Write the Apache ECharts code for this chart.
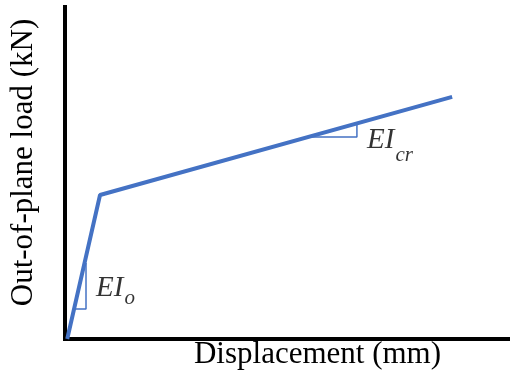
<!DOCTYPE html>
<html>
<head>
<meta charset="utf-8">
<script src="https://cdn.jsdelivr.net/npm/echarts@6/dist/echarts.min.js"></script>
<style>
html,body{margin:0;padding:0;background:#fff;}
#c{width:510px;height:378px;}
</style>
</head>
<body>
<div id="c"></div>
<script>
// Data (arbitrary units: displacement 0-100, load 0-100)
var curveX = [0.5, 7.87, 87.0];
var curveY = [0, 43.1, 72.5];
var triInitX = [2.25, 4.72, 4.72];
var triInitY = [9.0, 9.0, 22.75];
var triCrX = [55.06, 65.6, 65.6];
var triCrY = [60.5, 60.5, 64.1];
var labelPos = [[6.97, 13.4], [67.87, 57.9]];
var labelText = ['{m|EI}{o|o}', '{m|EI}{c|cr}'];
var xName = 'Displacement (mm)';
var yName = 'Out-of-plane load (kN)';

function pairs(xs, ys) { return xs.map(function (x, i) { return [x, ys[i]]; }); }

var blue = '#4472C4';
var serif = '"Liberation Serif", "Times New Roman", serif';

var chart = echarts.init(document.getElementById('c'), null, {renderer: 'canvas'});
var axisCommon = {
  type: 'value', min: 0, max: 100,
  axisTick: {show: false}, axisLabel: {show: false}, splitLine: {show: false},
  nameLocation: 'middle'
};
chart.setOption({
  animation: false,
  backgroundColor: '#fff',
  grid: {left: 65, right: 0, top: 5, bottom: 39, containLabel: false, outerBoundsMode: 'none'},
  xAxis: Object.assign({}, axisCommon, {
    name: xName, nameGap: 0,
    nameTextStyle: {fontFamily: serif, fontSize: 31, color: '#000', padding: [0, 0, 0, 60]},
    axisLine: {show: true, onZero: false, lineStyle: {color: '#000', width: 4, cap: 'square'}}
  }),
  yAxis: Object.assign({}, axisCommon, {
    name: yName, nameGap: 26,
    nameTextStyle: {fontFamily: serif, fontSize: 31, color: '#000', padding: [0, 0, 0, 19]},
    axisLine: {show: true, onZero: false, lineStyle: {color: '#000', width: 4, cap: 'butt'}}
  }),
  series: [
    {type: 'line', data: pairs(curveX, curveY), symbol: 'none', silent: true,
     lineStyle: {color: blue, width: 4}, z: 3},
    {type: 'line', data: pairs(triInitX, triInitY), symbol: 'none', silent: true,
     lineStyle: {color: blue, width: 1.5}, z: 2},
    {type: 'line', data: pairs(triCrX, triCrY), symbol: 'none', silent: true,
     lineStyle: {color: blue, width: 1.5}, z: 2},
    {type: 'scatter', symbolSize: 0, silent: true,
     data: labelPos.map(function (p, i) { return {value: p, label: {formatter: labelText[i]}}; }),
     label: {
       show: true, position: 'right', distance: 0,
       rich: {
         m: {fontFamily: serif, fontStyle: 'italic', fontSize: 29, lineHeight: 40, verticalAlign: 'top', color: '#000'},
         o: {fontFamily: serif, fontStyle: 'italic', fontSize: 21, verticalAlign: 'bottom', padding: [0, 0, 5, 1], color: '#000'},
         c: {fontFamily: serif, fontStyle: 'italic', fontSize: 21, verticalAlign: 'bottom', padding: [0, 0, 0, 1], color: '#000'}
       }
     }}
  ]
});
</script>
</body>
</html>
